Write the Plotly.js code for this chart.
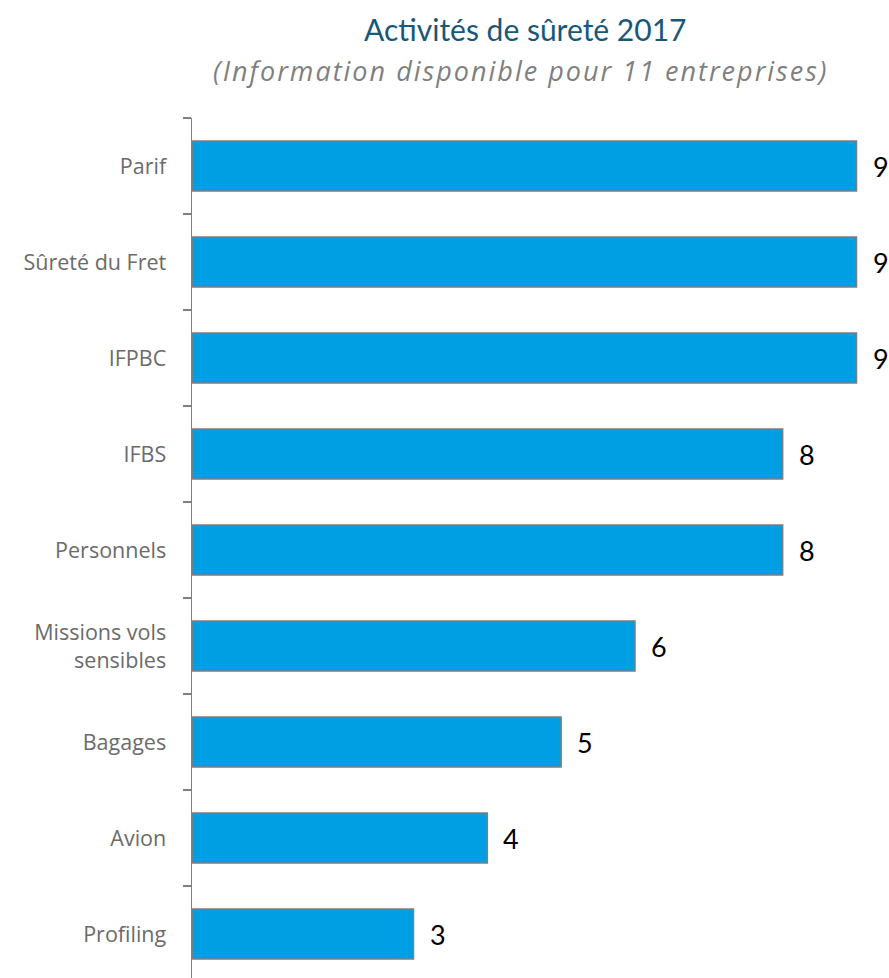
<!DOCTYPE html>
<html>
<head>
<meta charset="utf-8">
<script src="https://cdn.plot.ly/plotly-3.0.1.min.js"></script>
<style>html,body{margin:0;padding:0;background:#fff;}#chart{width:889px;height:978px;}</style>
</head>
<body>
<div id="chart"></div>
<script>
// Data (bottom to top)
const categories = ["Profiling", "Avion", "Bagages", "Missions vols<br>sensibles", "Personnels", "IFBS", "IFPBC", "Sûreté du Fret", "Parif"];
const values = [3, 4, 5, 6, 8, 8, 9, 9, 9];
const titleText = "Activités de sûreté 2017";
const subtitleText = "(Information disponible pour 11 entreprises)";

const fontA = "Lato, 'Open Sans', sans-serif";
const fontB = "'Open Sans', sans-serif";

const trace = {
  type: "bar",
  orientation: "h",
  y: categories,
  x: values,
  marker: { color: "#009FE3", line: { color: "#7F7F7F", width: 1.5 } },
  hoverinfo: "none"
};

const annotations = values.map((v, i) => ({
  x: v, y: categories[i], xref: "x", yref: "y",
  text: String(v), showarrow: false, xanchor: "left", xshift: 14,
  font: { family: fontA, size: 27, color: "#000000" }
}));
annotations.push({
  xref: "paper", yref: "paper", x: 0.478, y: 1, yshift: 89, xanchor: "center", yanchor: "middle",
  text: titleText, showarrow: false,
  font: { family: fontA, size: 30, color: "#17587A" }
});
annotations.push({
  xref: "paper", yref: "paper", x: 0.472, y: 1, yshift: 48, xanchor: "center", yanchor: "middle",
  text: "<span style=\"letter-spacing:2px\"><i>" + subtitleText + "</i></span>", showarrow: false,
  font: { family: fontB, size: 27, color: "#7F7F7F" }
});

const layout = {
  width: 889, height: 978,
  margin: { l: 192, r: 0, t: 118, b: 0 },
  paper_bgcolor: "#ffffff", plot_bgcolor: "#ffffff",
  showlegend: false,
  bargap: 0.48,
  xaxis: { range: [0, 9.44], visible: false, fixedrange: true },
  yaxis: {
    type: "category",
    range: [-0.458, 8.5],
    showline: true, linecolor: "#808080", linewidth: 1.5,
    ticks: "outside", ticklen: 8, tickcolor: "#808080", tickwidth: 1.5,
    tickson: "boundaries",
    ticklabelstandoff: 20,
    showgrid: false, zeroline: false,
    tickfont: { family: fontB, size: 21.5, color: "#6B6B6B" }
  },
  annotations: annotations
};

Plotly.newPlot("chart", [trace], layout, { staticPlot: true });
</script>
</body>
</html>
